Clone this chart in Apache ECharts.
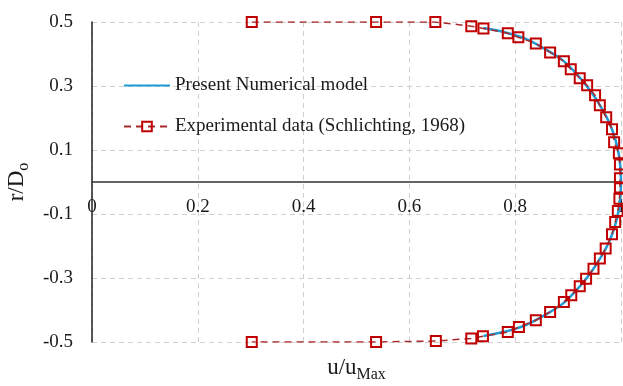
<!DOCTYPE html>
<html>
<head>
<meta charset="utf-8">
<script src="https://cdn.jsdelivr.net/npm/echarts@6/dist/echarts.min.js"></script>
<style>html,body{margin:0;padding:0;background:#fff}#c{width:623px;height:386px}</style>
</head>
<body>
<div id="c"></div>
<script>
// Experimental data (Schlichting, 1968): [u/uMax, r/Do], in drawing order (top to bottom)
var expX = [0.302,0.537,0.649,0.717,0.740,0.786,0.806,0.839,0.866,0.892,0.905,0.922,0.936,0.951,0.960,0.972,0.983,0.987,0.996,0.998,0.998,0.998,0.997,
            0.994,0.989,0.983,0.971,0.960,0.948,0.934,0.922,0.906,0.892,0.866,0.839,0.807,0.786,0.739,0.717,0.650,0.537,0.302];
var expY = [0.5,0.5,0.5,0.487,0.480,0.465,0.452,0.433,0.405,0.377,0.352,0.324,0.302,0.271,0.240,0.202,0.165,0.124,0.090,0.055,0.012,-0.017,-0.052,
            -0.091,-0.125,-0.163,-0.208,-0.239,-0.271,-0.302,-0.326,-0.354,-0.375,-0.406,-0.432,-0.453,-0.469,-0.482,-0.489,-0.497,-0.5,-0.5];
// Present numerical model
var modX = [0.740,0.780,0.820,0.860,0.890,0.918,0.942,0.962,0.978,0.989,0.996,0.999,1.0,0.999,0.996,0.989,0.978,0.962,0.942,0.918,0.890,0.860,0.820,0.780,0.740];
var modY = [0.481,0.468,0.447,0.412,0.380,0.334,0.285,0.235,0.185,0.135,0.085,0.040,0.0,-0.040,-0.085,-0.135,-0.185,-0.235,-0.285,-0.334,-0.380,-0.412,-0.447,-0.468,-0.481];
var seriesNames = ['Present Numerical model', 'Experimental data (Schlichting, 1968)'];
var xTicks = {min: 0, max: 1, step: 0.2};
var yTicks = {min: -0.5, max: 0.5, step: 0.2};

function pairs(xs, ys){ return xs.map(function(x,i){ return [x, ys[i]]; }); }

var FONT = 'Liberation Serif';
var GRID = {left: 92, right: 2, top: 22, bottom: 44};
var plotH = 386 - GRID.top - GRID.bottom;
// x-axis sits on r/Do = 0
var zeroOffset = -plotH * (0 - yTicks.min) / (yTicks.max - yTicks.min);

var chart = echarts.init(document.getElementById('c'), null, {renderer:'canvas'});
chart.setOption({
  animation: false,
  backgroundColor: '#fff',
  textStyle: {fontFamily: FONT},
  grid: {left: GRID.left, right: GRID.right, top: GRID.top, bottom: GRID.bottom, containLabel: false, outerBoundsMode: 'none'},
  legend: {
    orient: 'vertical', left: 118, top: 71, itemGap: 22,
    itemWidth: 46, itemHeight: 12,
    textStyle: {fontFamily: FONT, fontSize: 19, color: '#1a1a1a'},
    data: [
      {name: seriesNames[0], icon: 'path://M0,0 L46,0 L46,2 L0,2 Z'},
      {name: seriesNames[1]}
    ]
  },
  xAxis: {
    type: 'value', min: xTicks.min, max: xTicks.max, interval: xTicks.step,
    offset: zeroOffset,
    axisLine: {show: true, onZero: false, lineStyle: {color: '#333', width: 1.5}},
    axisTick: {show: false},
    axisLabel: {fontFamily: FONT, fontSize: 19, color: '#1a1a1a', margin: 16, showMinLabel: true, showMaxLabel: true,
      formatter: function(v){ return String(+v.toFixed(1)); }},
    splitLine: {show: true, lineStyle: {color: '#cfcfcf', type: [5,4], width: 1}},
    name: '{a|u/u}{b|Max}', nameLocation: 'middle', nameGap: 178,
    nameTextStyle: {rich: {
      a: {fontFamily: FONT, fontSize: 23, color: '#1a1a1a', lineHeight: 23, padding: [0,0,4,0], verticalAlign: 'bottom'},
      b: {fontFamily: FONT, fontSize: 16, color: '#1a1a1a', lineHeight: 16, verticalAlign: 'bottom'}
    }}
  },
  yAxis: {
    type: 'value', min: yTicks.min, max: yTicks.max, interval: yTicks.step,
    axisLine: {show: true, onZero: false, lineStyle: {color: '#222', width: 1.5}},
    axisTick: {show: false},
    axisLabel: {fontFamily: FONT, fontSize: 19, color: '#1a1a1a', margin: 19, showMinLabel: true, showMaxLabel: true,
      formatter: function(v){ return String(+v.toFixed(1)); }},
    splitLine: {show: true, lineStyle: {color: '#cfcfcf', type: [5,4], width: 1}},
    name: '{a|r/D}{b|o}', nameLocation: 'middle', nameGap: 58, nameRotate: 90,
    nameTextStyle: {rich: {
      a: {fontFamily: FONT, fontSize: 23, color: '#1a1a1a', lineHeight: 23, padding: [0,0,4,0], verticalAlign: 'bottom'},
      b: {fontFamily: FONT, fontSize: 16, color: '#1a1a1a', lineHeight: 16, verticalAlign: 'bottom'}
    }}
  },
  series: [
    {
      name: seriesNames[0], type: 'line', data: pairs(modX, modY),
      smooth: 0.3, showSymbol: false, symbol: 'none',
      lineStyle: {color: '#1f9ad6', width: 2.5},
      itemStyle: {color: '#1f9ad6'}, z: 2
    },
    {
      name: seriesNames[1], type: 'line', data: pairs(expX, expY),
      symbol: 'rect', symbolSize: 10,
      lineStyle: {color: '#a82a2a', width: 1.5, type: [7,5]},
      itemStyle: {color: 'rgba(255,255,255,0)', borderColor: '#c00000', borderWidth: 2}, z: 3
    }
  ]
});
</script>
</body>
</html>
